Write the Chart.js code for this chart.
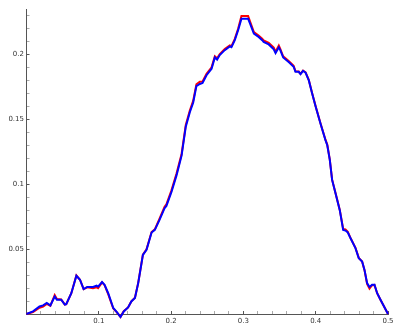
<!DOCTYPE html>
<html>
<head>
<meta charset="utf-8">
<script src="https://cdn.jsdelivr.net/npm/chart.js"></script>
<style>
    body { margin: 0; background: #fff; }
    #wrap { position: absolute; left: 0; top: 0; width: 394px; height: 325px; }
</style>
</head>
<body>
<div id="wrap"><canvas id="chart"></canvas></div>
<script>
// sample positions along x, shared by both curves
const xs = [
    0, 0.009, 0.018, 0.023, 0.028, 0.033, 0.039, 0.042, 0.048, 0.053,
    0.055, 0.062, 0.069, 0.074, 0.079, 0.084, 0.092, 0.097, 0.099, 0.1045,
    0.108, 0.113, 0.12, 0.125, 0.13, 0.1345, 0.1405, 0.145, 0.15, 0.1545,
    0.161, 0.166, 0.173, 0.1775, 0.184, 0.191, 0.1935, 0.2005, 0.2075, 0.2145,
    0.2203, 0.2259, 0.2305, 0.235, 0.2397, 0.2435, 0.249, 0.256, 0.2605, 0.2636,
    0.2673, 0.2742, 0.2812, 0.2835, 0.2881, 0.2927, 0.2973, 0.3065, 0.31, 0.3145,
    0.321, 0.326, 0.328, 0.335, 0.342, 0.3445, 0.349, 0.351, 0.355, 0.363,
    0.3695, 0.372, 0.3765, 0.379, 0.3825, 0.386, 0.3905, 0.395, 0.4, 0.4065,
    0.4135, 0.416, 0.4195, 0.4227, 0.4274, 0.4333, 0.438, 0.4412, 0.4444, 0.448,
    0.455, 0.4596, 0.4642, 0.4675, 0.4711, 0.4744, 0.478, 0.4813, 0.485, 0.4896,
    0.494, 0.5
];

const blueValues = [
    0, 0.002, 0.0058, 0.0066, 0.0085, 0.0066, 0.0135, 0.011, 0.011, 0.0072,
    0.0075, 0.016, 0.0295, 0.0264, 0.0192, 0.0208, 0.0208, 0.0218, 0.021, 0.0246,
    0.0225, 0.016, 0.0046, 0.0015, -0.0023, 0.002, 0.0051, 0.0097, 0.0123, 0.0238,
    0.0456, 0.0495, 0.0628, 0.0648, 0.0725, 0.0815, 0.0833, 0.094, 0.1068, 0.122,
    0.1443, 0.1555, 0.1628, 0.1756, 0.1772, 0.178, 0.184, 0.189, 0.1977, 0.196,
    0.1995, 0.2033, 0.2062, 0.2056, 0.211, 0.2187, 0.2275, 0.2275, 0.2225, 0.216,
    0.2135, 0.211, 0.2097, 0.2077, 0.204, 0.201, 0.2055, 0.2033, 0.1977, 0.194,
    0.1905, 0.1866, 0.1866, 0.1848, 0.1874, 0.186, 0.18, 0.17, 0.1597, 0.147,
    0.134, 0.13, 0.1187, 0.1033, 0.093, 0.08, 0.0648, 0.0643, 0.0628, 0.0585,
    0.0508, 0.043, 0.0405, 0.034, 0.0238, 0.0208, 0.0225, 0.0225, 0.016, 0.011,
    0.0064, 0
];

const redValues = [
    0, 0.0015, 0.0048, 0.0057, 0.0078, 0.0063, 0.0146, 0.0115, 0.0112, 0.0072,
    0.0075, 0.016, 0.0297, 0.0264, 0.0192, 0.0206, 0.0199, 0.0205, 0.0199, 0.0244,
    0.0222, 0.0153, 0.0042, 0.0013, -0.0022, 0.0022, 0.0051, 0.0097, 0.0125, 0.024,
    0.0458, 0.0498, 0.0632, 0.0652, 0.0735, 0.0826, 0.0845, 0.0953, 0.1083, 0.1233,
    0.1456, 0.1568, 0.1642, 0.177, 0.179, 0.1792, 0.185, 0.19, 0.1986, 0.197,
    0.2003, 0.2041, 0.207, 0.2064, 0.212, 0.2198, 0.2297, 0.2297, 0.2242, 0.2172,
    0.2146, 0.2121, 0.2108, 0.209, 0.2053, 0.202, 0.2068, 0.2043, 0.1986, 0.1948,
    0.1912, 0.1871, 0.1868, 0.185, 0.1876, 0.1862, 0.1802, 0.1702, 0.1598, 0.1472,
    0.1343, 0.1305, 0.119, 0.1035, 0.0932, 0.0802, 0.0655, 0.0652, 0.0634, 0.0588,
    0.051, 0.0432, 0.0405, 0.0338, 0.0232, 0.0195, 0.0222, 0.0224, 0.016, 0.011,
    0.0064, 0
];

const xMax = 0.5;
const yMax = 0.235;

const toPoints = (ys) => xs.map((x, i) => ({ x: x, y: ys[i] }));

const isMultiple = (v, step) => v > 0 && Math.abs(v / step - Math.round(v / step)) < 1e-6;

const axisColor = '#555';
const labelFont = { family: 'DejaVu Sans', size: 7 };

const noPadding = (scale) => {
    scale.paddingLeft = 0;
    scale.paddingRight = 0;
    scale.paddingTop = 0;
    scale.paddingBottom = 0;
};

new Chart(document.getElementById('chart'), {
    type: 'line',
    data: {
        datasets: [
            {
                label: 'blue',
                data: toPoints(blueValues),
                borderColor: '#0000ff',
                borderWidth: 2,
                pointRadius: 0,
                tension: 0,
                clip: false
            },
            {
                label: 'red',
                data: toPoints(redValues),
                borderColor: '#ff0000',
                borderWidth: 2,
                pointRadius: 0,
                tension: 0,
                clip: false
            }
        ]
    },
    options: {
        responsive: true,
        maintainAspectRatio: false,
        animation: false,
        events: [],
        layout: { padding: { top: 9, right: 6, left: 0, bottom: 0 } },
        plugins: {
            legend: { display: false },
            tooltip: { enabled: false }
        },
        scales: {
            x: {
                type: 'linear',
                min: 0,
                max: xMax,
                border: { display: true, color: axisColor, width: 1 },
                grid: {
                    drawOnChartArea: false,
                    drawTicks: true,
                    tickLength: -3,
                    tickWidth: 1,
                    tickColor: (ctx) => isMultiple(ctx.tick.value, 0.1) ? axisColor : '#aaa'
                },
                ticks: {
                    stepSize: 0.02,
                    includeBounds: false,
                    autoSkip: false,
                    maxRotation: 0,
                    padding: 5.5,
                    color: '#333',
                    font: labelFont,
                    callback: (v) => isMultiple(v, 0.1) ? String(Math.round(v * 10) / 10) : ''
                },
                afterFit: (scale) => {
                    scale.height = 11;
                    noPadding(scale);
                }
            },
            y: {
                type: 'linear',
                min: 0,
                max: yMax,
                border: { display: true, color: axisColor, width: 1 },
                grid: {
                    drawOnChartArea: false,
                    drawTicks: true,
                    tickLength: -3,
                    tickWidth: 1,
                    tickColor: (ctx) => isMultiple(ctx.tick.value, 0.05) ? axisColor : '#aaa'
                },
                ticks: {
                    stepSize: 0.01,
                    includeBounds: false,
                    autoSkip: false,
                    padding: 5.5,
                    color: '#333',
                    font: labelFont,
                    callback: (v) => isMultiple(v, 0.05) ? String(Math.round(v * 100) / 100) : ''
                },
                afterFit: (scale) => {
                    scale.width = 26.5;
                    noPadding(scale);
                }
            }
        }
    }
});
</script>
</body>
</html>
